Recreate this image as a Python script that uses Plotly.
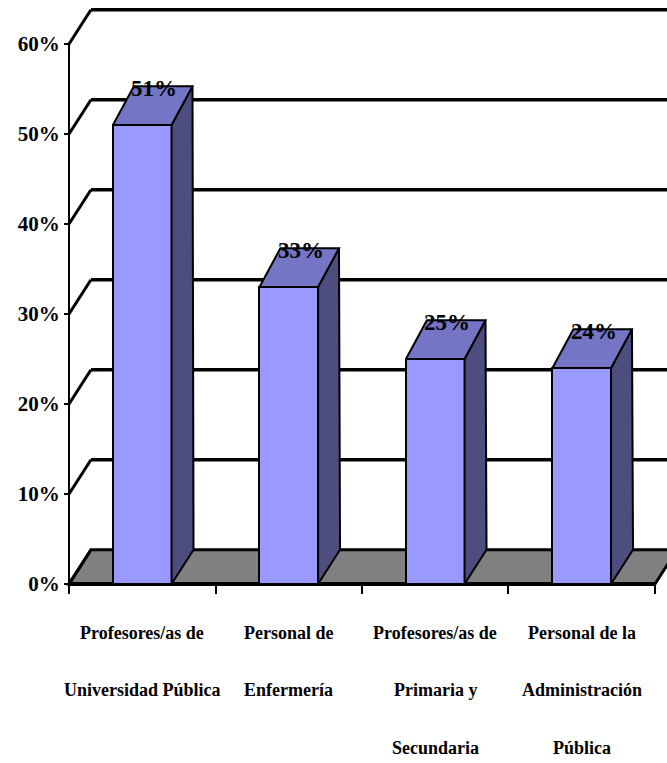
import plotly.graph_objects as go

# ---- data ----
categories = [
    ["Profesores/as de", "Universidad Pública"],
    ["Personal de", "Enfermería"],
    ["Profesores/as de", "Primaria y", "Secundaria"],
    ["Personal de la", "Administración", "Pública"],
]
values = [51, 33, 25, 24]
value_labels = ["51%", "33%", "25%", "24%"]
y_ticks = [0, 10, 20, 30, 40, 50, 60]
y_tick_labels = ["0%", "10%", "20%", "30%", "40%", "50%", "60%"]

# ---- style / geometry ----
W, H = 667, 763
FONT = "Liberation Serif"
FRONT = "#9999FF"
TOP = "#7575C5"
SIDE = "#4D4D80"
FLOOR = "#808080"
BAR_W = 0.40
WALL_DX, WALL_DY = 0.15, 3.8     # back wall offset (category units, %)
BAR_DX, BAR_DY = 0.143, 4.3      # bar depth at the top
XMIN, XMAX = -0.971, 3.582
YMIN, YMAX = -19.89, 64.89

n = len(values)
xs = list(range(n))
x_left, x_right = -0.5, n - 0.5

fig = go.Figure()
shapes = []

# floor
shapes.append(dict(type="path", xref="x", yref="y", layer="below",
                   path=f"M {x_left},0 L {x_right},0 L {x_right+WALL_DX},{WALL_DY} L {x_left+WALL_DX},{WALL_DY} Z",
                   fillcolor=FLOOR, line=dict(color="black", width=3)))
# back-wall gridlines and left-wall diagonals
for t in y_ticks:
    if t > 0:
        shapes.append(dict(type="line", xref="x", yref="y", layer="below",
                           x0=x_left + WALL_DX, y0=t + WALL_DY, x1=XMAX + 1, y1=t + WALL_DY,
                           line=dict(color="black", width=3.5)))
    shapes.append(dict(type="line", xref="x", yref="y", layer="below",
                       x0=x_left, y0=t, x1=x_left + WALL_DX, y1=t + WALL_DY,
                       line=dict(color="black", width=3)))
# front vertical axis line and front floor edge
shapes.append(dict(type="line", xref="x", yref="y", layer="below",
                   x0=x_left, y0=0, x1=x_left, y1=max(y_ticks),
                   line=dict(color="black", width=2)))
shapes.append(dict(type="line", xref="x", yref="y", layer="below",
                   x0=x_left, y0=0, x1=x_right, y1=0,
                   line=dict(color="black", width=4)))

# bar front faces
fig.add_trace(go.Bar(x=xs, y=values, width=BAR_W,
                     marker=dict(color=FRONT, line=dict(color="black", width=2)),
                     hoverinfo="skip", showlegend=False))

# side and top faces
for x, v in zip(xs, values):
    r = x + BAR_W / 2
    l = x - BAR_W / 2
    fig.add_trace(go.Scatter(
        x=[r, r, r + BAR_DX, r + WALL_DX, r], y=[0, v, v + BAR_DY, WALL_DY, 0],
        mode="lines", fill="toself", fillcolor=SIDE,
        line=dict(color="black", width=2), hoverinfo="skip", showlegend=False))
    fig.add_trace(go.Scatter(
        x=[l, r, r + BAR_DX, l + BAR_DX, l], y=[v, v, v + BAR_DY, v + BAR_DY, v],
        mode="lines", fill="toself", fillcolor=TOP,
        line=dict(color="black", width=2), hoverinfo="skip", showlegend=False))

annotations = []
# value labels
for x, v, lab in zip(xs, values, value_labels):
    annotations.append(dict(x=x + BAR_DX / 2 + 0.01, y=v + BAR_DY, xref="x", yref="y",
                            text=lab, showarrow=False, yanchor="middle", yshift=-2,
                            font=dict(family=FONT, size=23, color="black", weight="bold")))
# category labels
line_px = [633, 690, 748]
for x, lines in zip(xs, categories):
    for k, txt in enumerate(lines):
        annotations.append(dict(x=x, y=1 - line_px[k] / H, xref="x", yref="paper",
                                text=txt, showarrow=False, yanchor="middle",
                                font=dict(family=FONT, size=18, color="black", weight="bold")))

fig.update_layout(
    width=W, height=H,
    margin=dict(l=0, r=0, t=0, b=0),
    paper_bgcolor="white", plot_bgcolor="white",
    font=dict(family=FONT, color="black"),
    shapes=shapes, annotations=annotations,
    bargap=0,
    xaxis=dict(range=[XMIN, XMAX], showgrid=False, zeroline=False, showline=False,
               tickvals=[i - 0.5 for i in range(n + 1)], ticks="outside", ticklen=9,
               tickwidth=1.5, tickcolor="black", showticklabels=False,
               anchor="free", position=1 - 584 / H, fixedrange=True),
    yaxis=dict(range=[YMIN, YMAX], showgrid=False, zeroline=False, showline=False,
               tickvals=y_ticks, ticktext=y_tick_labels, ticks="outside", ticklen=5,
               tickwidth=2, tickcolor="black", anchor="free", position=69 / W,
               tickfont=dict(family=FONT, size=21, color="black", weight="bold"),
               fixedrange=True),
)

fig.write_html("out.html")
